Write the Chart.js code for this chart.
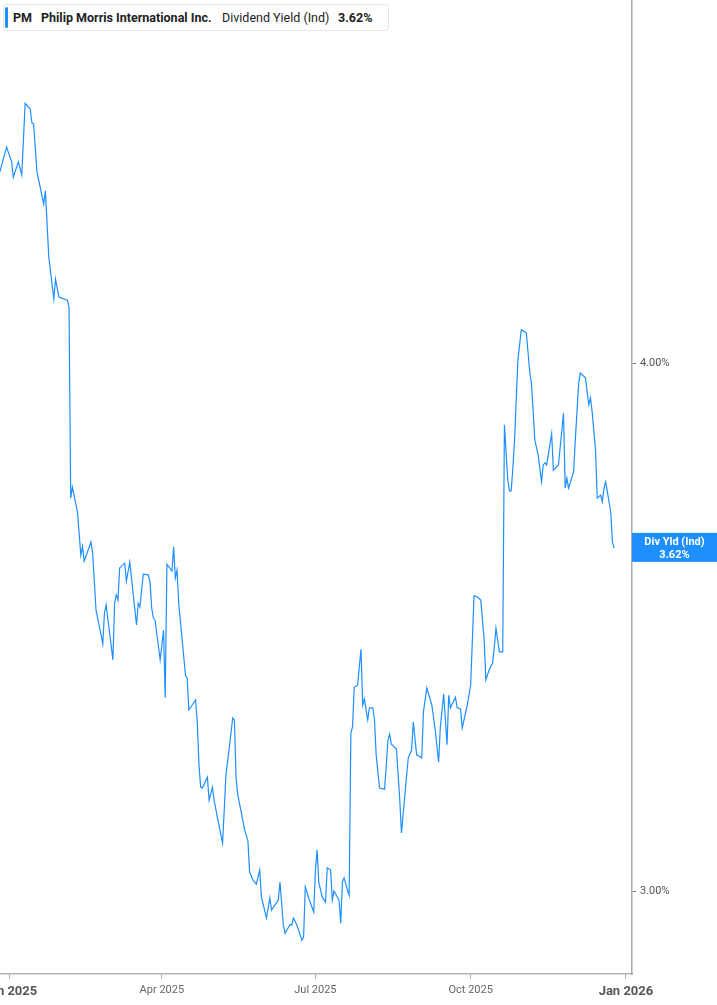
<html>
  <head>
    <script src="https://cdn.jsdelivr.net/npm/chart.js@4.4.1/dist/chart.umd.min.js"></script>
    <style>
      body { margin: 0; background: #fff; }
      #wrap { position: relative; width: 717px; height: 1005px; }
      #hdr {
        position: absolute; left: 3px; top: 4px; width: 384px; height: 25px;
        border: 1px solid #e6e6e6; border-radius: 3px; background: #fff;
        font-family: Roboto, "Liberation Sans", sans-serif; font-size: 12.5px; color: #222;
      }
      #hdr .bar { position: absolute; left: 1px; top: 2px; width: 3px; height: 21px; background: #1e8fff; border-radius: 2px; }
      #hdr span { position: absolute; top: 5px; white-space: nowrap; }
      .b { font-weight: bold; }
    </style>
  </head>

  <body>
    <div id="wrap">
      <canvas id="chart"></canvas>
      <div id="hdr">
        <div class="bar"></div>
        <span class="b" style="left:9px">PM</span>
        <span class="b" style="left:37px">Philip Morris International Inc.</span>
        <span style="left:218px">Dividend Yield (Ind)</span>
        <span class="b" style="left:334px">3.62%</span>
      </div>
    </div>
  </body>

  <script>
    // days since 1 Jan 2025
    var dayIdx = [
      -6, -2, 1, 2, 5, 7, 9, 12, 13, 14, 16, 20, 21, 23, 26, 27, 29, 34, 35, 36,
      37, 40, 42, 43, 44, 48, 49, 51, 54, 55, 56, 57, 61, 62, 63, 64, 65, 68, 69, 71,
      75, 76, 77, 79, 82, 83, 84, 85, 86, 89, 91, 92, 93, 96, 97, 98, 99, 100, 104, 105,
      106, 110, 111, 112, 113, 114, 117, 118, 120, 121, 123, 126, 128, 130, 132, 133, 134, 135, 137, 139,
      141, 142, 144, 146, 148, 149, 152, 154, 155, 159, 160, 162, 163, 166, 167, 168, 170, 173, 174, 175,
      177, 180, 181, 182, 183, 185, 187, 188, 190, 191, 192, 195, 196, 197, 198, 200, 201, 202, 203, 204,
      206, 208, 209, 210, 212, 213, 215, 216, 217, 219, 222, 224, 225, 226, 229, 231, 232, 234, 236, 238,
      239, 241, 244, 245, 247, 250, 252, 254, 255, 257, 259, 260, 261, 264, 265, 267, 268, 271, 273, 275,
      277, 279, 280, 281, 282, 284, 286, 287, 288, 290, 292, 293, 295, 296, 297, 298, 299, 301, 303, 306,
      308, 309, 310, 311, 313, 315, 316, 317, 318, 321, 322, 325, 326, 328, 329, 330, 331, 334, 335, 337,
      338, 341, 343, 344, 345, 347, 348, 350, 351, 352, 353, 356, 357, 358
    ];
    var yieldPct = [
      4.362, 4.409, 4.381, 4.352, 4.381, 4.356, 4.492, 4.481, 4.455, 4.453, 4.362, 4.301, 4.326, 4.201, 4.121, 4.159, 4.125, 4.119, 4.106, 3.744,
      3.765, 3.718, 3.636, 3.653, 3.625, 3.661, 3.640, 3.532, 3.485, 3.468, 3.527, 3.542, 3.438, 3.545, 3.561, 3.551, 3.612, 3.621, 3.587, 3.623,
      3.504, 3.545, 3.538, 3.600, 3.599, 3.585, 3.536, 3.517, 3.513, 3.438, 3.494, 3.366, 3.619, 3.606, 3.652, 3.593, 3.608, 3.545, 3.409, 3.403,
      3.343, 3.362, 3.320, 3.239, 3.197, 3.195, 3.216, 3.172, 3.197, 3.172, 3.138, 3.091, 3.220, 3.273, 3.328, 3.324, 3.214, 3.182, 3.150, 3.117,
      3.095, 3.036, 3.021, 3.013, 3.040, 2.989, 2.949, 2.987, 2.964, 2.983, 3.017, 2.936, 2.920, 2.937, 2.936, 2.949, 2.936, 2.907, 2.913, 3.008,
      2.987, 2.960, 3.040, 3.078, 3.017, 2.989, 2.979, 3.044, 3.040, 2.983, 3.000, 2.983, 2.939, 3.017, 3.025, 3.002, 2.992, 3.299, 3.311, 3.386,
      3.390, 3.458, 3.352, 3.364, 3.324, 3.347, 3.347, 3.324, 3.258, 3.195, 3.193, 3.286, 3.297, 3.278, 3.269, 3.172, 3.110, 3.182, 3.252, 3.267,
      3.320, 3.258, 3.252, 3.339, 3.385, 3.352, 3.305, 3.244, 3.309, 3.373, 3.277, 3.371, 3.347, 3.367, 3.347, 3.345, 3.309, 3.352, 3.390, 3.559,
      3.557, 3.551, 3.513, 3.475, 3.400, 3.419, 3.432, 3.462, 3.498, 3.453, 3.453, 3.883, 3.778, 3.758, 3.758, 3.801, 3.854, 4.006, 4.063, 4.057,
      3.983, 3.962, 3.911, 3.854, 3.826, 3.775, 3.807, 3.811, 3.807, 3.866, 3.797, 3.807, 3.839, 3.905, 3.763, 3.782, 3.763, 3.794, 3.854, 3.962,
      3.981, 3.972, 3.921, 3.934, 3.907, 3.835, 3.744, 3.750, 3.737, 3.763, 3.775, 3.718, 3.661, 3.650
    ];

    var xTickDays = [0, 90, 181, 273, 365];
    var xTickLabels = ['Jan 2025', 'Apr 2025', 'Jul 2025', 'Oct 2025', 'Jan 2026'];
    var yTickVals = [3, 4];
    var tagLines = ['Div Yld (Ind)', '3.62%'];

    var points = [];
    for (i = 0; i < dayIdx.length; i++) {
      points.push({x: dayIdx[i], y: yieldPct[i]});
    }

    // blue value tag on the right axis
    var tagPlugin = {
      id: 'lastTag',
      afterDraw: function(chart) {
        var ctx = chart.ctx;
        var area = chart.chartArea;
        var y = chart.scales.y.getPixelForValue(yieldPct[yieldPct.length - 1]);
        ctx.save();
        ctx.fillStyle = '#1e8fff';
        ctx.fillRect(area.right, y - 15, chart.width - area.right, 29);
        ctx.fillStyle = '#fff';
        ctx.font = 'bold 11px Roboto';
        ctx.textAlign = 'center';
        ctx.textBaseline = 'middle';
        var cx = area.right + (chart.width - area.right) / 2;
        ctx.fillText(tagLines[0], cx, y - 6);
        ctx.fillText(tagLines[1], cx, y + 7);
        ctx.restore();
      }
    };

    new Chart(document.getElementById('chart'), {
      type: 'line',
      data: {
        datasets: [{
          data: points,
          borderColor: '#1e8fff',
          borderWidth: 1.2,
          pointRadius: 0,
          tension: 0,
          fill: false
        }]
      },
      plugins: [tagPlugin],
      options: {
        responsive: true,
        maintainAspectRatio: false,
        animation: false,
        layout: { padding: 0 },
        plugins: { legend: { display: false }, tooltip: { enabled: false } },
        scales: {
          x: {
            type: 'linear',
            min: -5.9,
            max: 368.6,
            grid: { drawOnChartArea: false, drawTicks: true, tickLength: 5, color: '#aaa' },
            border: { color: '#b5b5b5', width: 1.5 },
            afterBuildTicks: function(scale) {
              scale.ticks = xTickDays.map(function(v) { return {value: v}; });
            },
            afterFit: function(scale) {
              scale.height = 31;
              scale.paddingLeft = 0;
              scale.paddingRight = 0;
            },
            ticks: {
              autoSkip: false,
              maxRotation: 0,
              padding: 5,
              color: function(c) { return (c.tick && c.tick.value % 365 === 0) ? '#555' : '#666'; },
              font: function(c) {
                var isYear = c.tick && c.tick.value % 365 === 0;
                return { family: 'Roboto', size: isYear ? 13 : 11, weight: isYear ? 'bold' : 'normal' };
              },
              callback: function(v) {
                var k = xTickDays.indexOf(v);
                return k >= 0 ? xTickLabels[k] : '';
              }
            }
          },
          y: {
            position: 'right',
            min: 2.843,
            max: 4.6875,
            grid: { drawOnChartArea: false, drawTicks: true, tickLength: 4, color: '#777' },
            border: { color: '#a8a8a8', width: 1.5 },
            afterBuildTicks: function(scale) {
              scale.ticks = yTickVals.map(function(v) { return {value: v}; });
            },
            afterFit: function(scale) {
              scale.width = 85;
              scale.paddingTop = 0;
              scale.paddingBottom = 0;
            },
            ticks: {
              padding: 4,
              color: '#555',
              font: { family: 'Roboto', size: 11 },
              callback: function(v) { return v.toFixed(2) + '%'; }
            }
          }
        }
      }
    });
  </script>

</html>
